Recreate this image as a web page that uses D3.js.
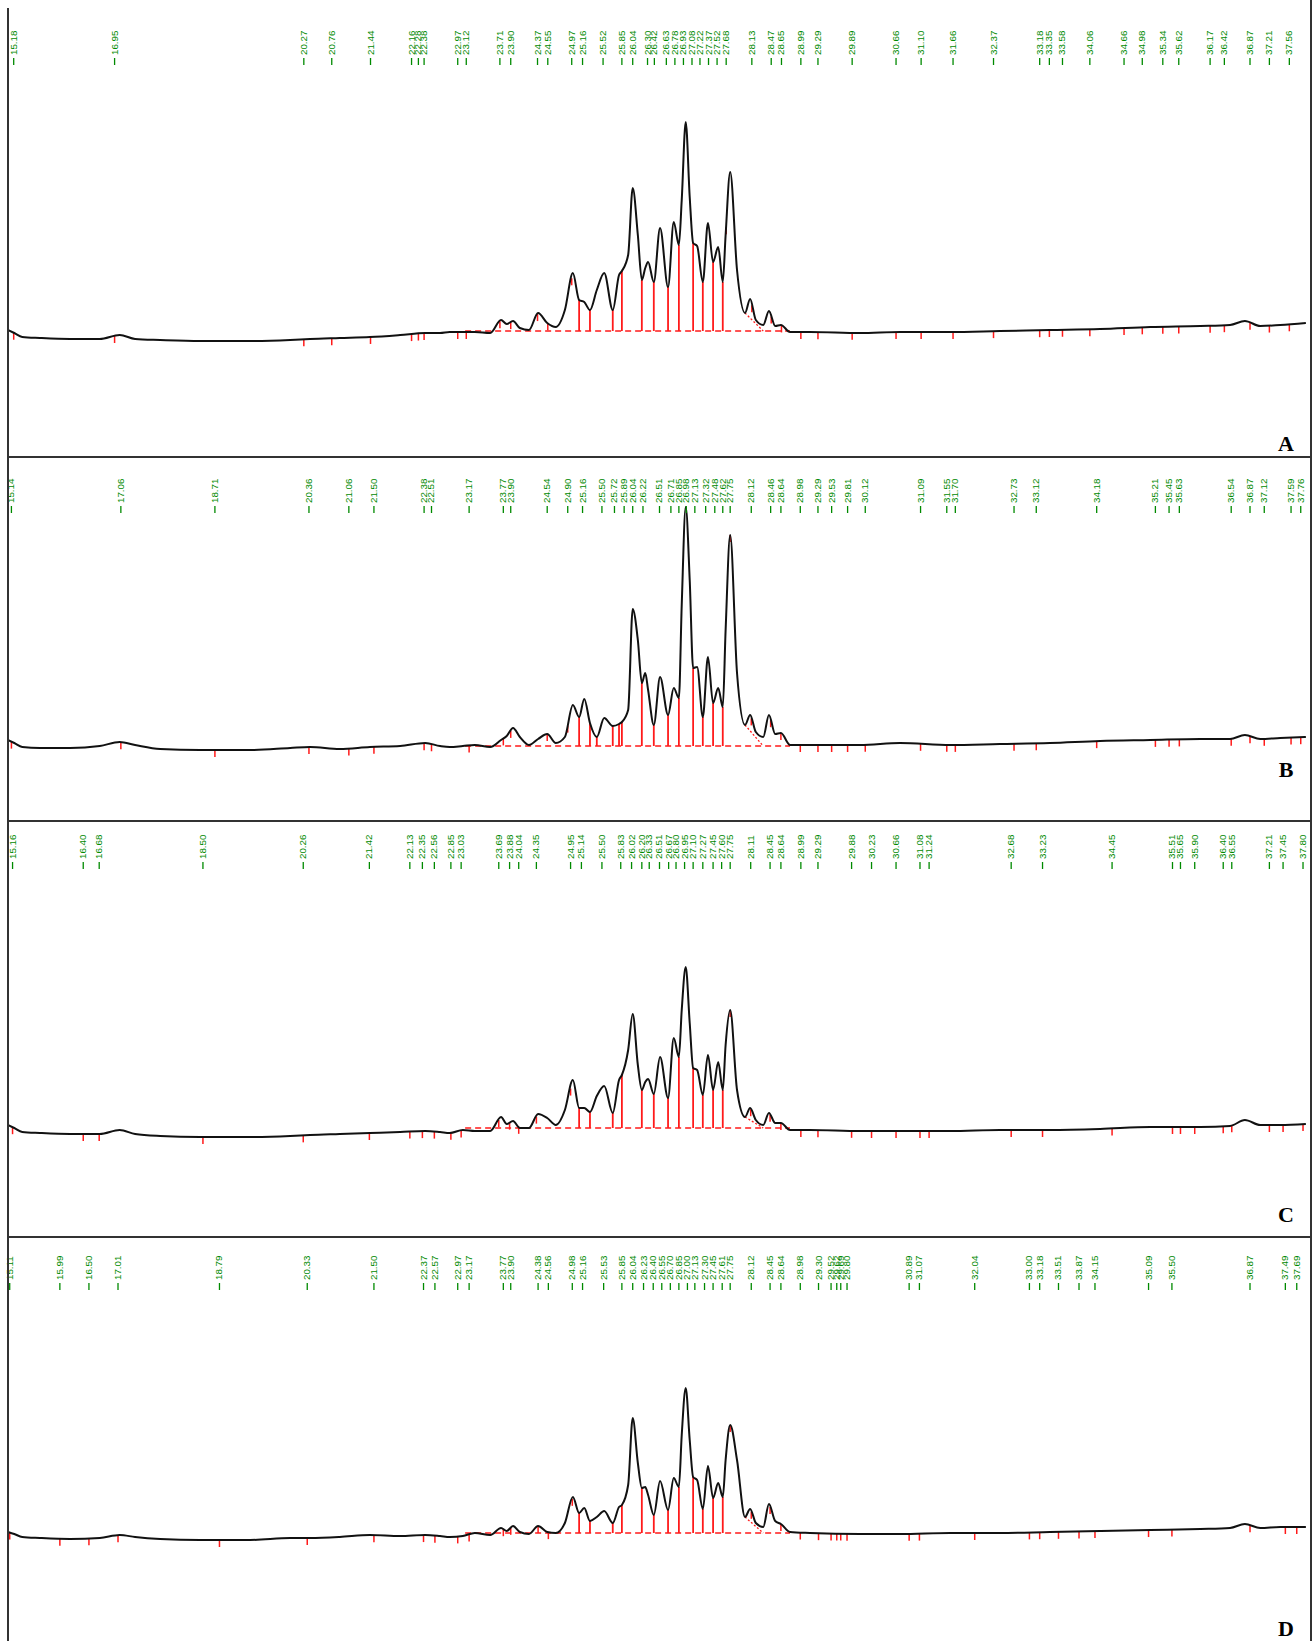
<!DOCTYPE html>
<html>
<head>
<meta charset="utf-8">
<script src="https://cdn.jsdelivr.net/npm/d3@7"></script>
<style>
  body { margin: 0; background: #fff; }
  svg { display: block; }
</style>
</head>
<body>
<div id="chart"></div>
<script>
// retention time grid (min), shared by the four traces
const times = [15.08, 15.19, 15.33, 15.64, 16.17, 16.69, 17.04, 17.31, 17.75, 18.45,
  19.33, 20.03, 20.38, 20.90, 21.43, 21.96, 22.40, 22.66, 22.83, 23.06,
  23.27, 23.54, 23.73, 23.83, 23.94, 24.06, 24.22, 24.38, 24.54, 24.69,
  24.85, 24.99, 25.10, 25.19, 25.29, 25.41, 25.54, 25.69, 25.80, 25.85,
  25.96, 26.04, 26.13, 26.20, 26.26, 26.31, 26.41, 26.52, 26.66, 26.76,
  26.85, 26.90, 26.97, 27.04, 27.10, 27.17, 27.27, 27.36, 27.45, 27.54,
  27.62, 27.67, 27.75, 27.87, 28.01, 28.10, 28.20, 28.33, 28.43, 28.54,
  28.64, 28.80, 29.15, 30.03, 30.73, 31.61, 32.48, 33.36, 34.24, 35.12,
  36.00, 36.52, 36.78, 37.05, 37.40, 37.85]

// detector signal (mV) for each sample
const signalA = [15, 12, 8, 7, 6, 6, 10, 6, 5, 4,
  4, 5, 6, 7, 8, 10, 12, 12, 13, 13,
  13, 12, 25, 21, 24, 17, 15, 32, 22, 18,
  35, 72, 45, 43, 35, 55, 72, 35, 70, 74,
  90, 157, 110, 65, 77, 83, 63, 117, 58, 123,
  100, 145, 223, 148, 102, 99, 63, 122, 83, 98,
  63, 110, 173, 75, 32, 46, 25, 20, 34, 19,
  20, 13, 13, 12, 13, 13, 14, 15, 16, 18,
  19, 20, 24, 19, 20, 22]
const signalB = [15, 12, 8, 7, 7, 9, 13, 10, 6, 5,
  5, 7, 8, 6, 8, 9, 12, 9, 8, 9,
  10, 8, 15, 19, 27, 18, 10, 16, 21, 12,
  18, 50, 38, 56, 32, 18, 37, 29, 31, 33,
  45, 146, 115, 72, 82, 65, 30, 78, 40, 67,
  57, 150, 248, 175, 87, 88, 38, 98, 52, 67,
  48, 125, 220, 82, 30, 40, 23, 18, 40, 21,
  22, 10, 10, 10, 12, 10, 11, 12, 14, 15,
  16, 16, 20, 16, 17, 18]
const signalC = [15, 12, 8, 7, 6, 6, 10, 6, 4, 3,
  3, 4, 5, 6, 7, 8, 9, 8, 7, 10,
  9, 9, 23, 16, 19, 12, 12, 26, 22, 15,
  30, 60, 32, 32, 28, 44, 54, 27, 60, 65,
  90, 126, 75, 50, 58, 61, 46, 83, 42, 102,
  83, 130, 173, 117, 72, 70, 45, 85, 50, 78,
  50, 95, 130, 50, 23, 32, 20, 15, 27, 17,
  17, 10, 10, 9, 9, 9, 10, 10, 11, 13,
  13, 14, 20, 15, 15, 16]
const signalD = [13, 11, 8, 7, 6, 7, 10, 8, 6, 5,
  5, 7, 7, 8, 10, 9, 10, 9, 8, 9,
  12, 10, 17, 14, 19, 13, 11, 19, 13, 12,
  22, 48, 32, 37, 24, 28, 34, 22, 38, 40,
  60, 127, 82, 57, 58, 50, 30, 64, 35, 67,
  58, 110, 157, 105, 68, 65, 36, 79, 47, 62,
  48, 85, 120, 85, 28, 36, 22, 18, 41, 24,
  21, 13, 12, 11, 11, 12, 12, 13, 14, 15,
  16, 17, 21, 17, 18, 18]

// integrated peak retention times printed above each trace
const labelsA = ["15.18", "16.95", "20.27", "20.76", "21.44", "22.16", "22.28", "22.38", "22.97", "23.12",
  "23.71", "23.90", "24.37", "24.55", "24.97", "25.16", "25.52", "25.85", "26.04", "26.30",
  "26.42", "26.63", "26.78", "26.93", "27.08", "27.22", "27.37", "27.52", "27.68", "28.13",
  "28.47", "28.65", "28.99", "29.29", "29.89", "30.66", "31.10", "31.66", "32.37", "33.18",
  "33.35", "33.58", "34.06", "34.66", "34.98", "35.34", "35.62", "36.17", "36.42", "36.87",
  "37.21", "37.56"]
const labelsB = ["15.14", "17.06", "18.71", "20.36", "21.06", "21.50", "22.38", "22.51", "23.17", "23.77",
  "23.90", "24.54", "24.90", "25.16", "25.50", "25.72", "25.89", "26.04", "26.22", "26.51",
  "26.71", "26.85", "26.98", "27.13", "27.32", "27.48", "27.62", "27.75", "28.12", "28.46",
  "28.64", "28.98", "29.29", "29.53", "29.81", "30.12", "31.09", "31.55", "31.70", "32.73",
  "33.12", "34.18", "35.21", "35.45", "35.63", "36.54", "36.87", "37.12", "37.59", "37.76"]
const labelsC = ["15.16", "16.40", "16.68", "18.50", "20.26", "21.42", "22.13", "22.35", "22.56", "22.85",
  "23.03", "23.69", "23.88", "24.04", "24.35", "24.95", "25.14", "25.50", "25.83", "26.02",
  "26.20", "26.33", "26.51", "26.67", "26.80", "26.95", "27.10", "27.27", "27.45", "27.60",
  "27.75", "28.11", "28.45", "28.64", "28.99", "29.29", "29.88", "30.23", "30.66", "31.08",
  "31.24", "32.68", "33.23", "34.45", "35.51", "35.65", "35.90", "36.40", "36.55", "37.21",
  "37.45", "37.80"]
const labelsD = ["15.11", "15.99", "16.50", "17.01", "18.79", "20.33", "21.50", "22.37", "22.57", "22.97",
  "23.17", "23.77", "23.90", "24.38", "24.56", "24.98", "25.16", "25.53", "25.85", "26.04",
  "26.23", "26.40", "26.55", "26.70", "26.85", "27.00", "27.13", "27.30", "27.45", "27.61",
  "27.75", "28.12", "28.45", "28.64", "28.98", "29.30", "29.52", "29.62", "29.69", "29.80",
  "30.89", "31.07", "32.04", "33.00", "33.18", "33.51", "33.87", "34.15", "35.09", "35.50",
  "36.87", "37.49", "37.69"]

// peak split (drop line) times and integration baseline
const dropsA = [25.10, 25.29, 25.69, 25.85, 26.20, 26.41, 26.66, 26.85, 27.10, 27.27, 27.45, 27.62]
const dropsB = [25.10, 25.29, 25.41, 25.69, 25.80, 25.85, 26.20, 26.41, 26.66, 26.85, 27.10, 27.27, 27.45, 27.62]
const dropsC = [25.10, 25.29, 25.69, 25.85, 26.20, 26.41, 26.66, 26.85, 27.10, 27.27, 27.45, 27.62]
const dropsD = [25.10, 25.29, 25.69, 25.85, 26.20, 26.41, 26.66, 26.85, 27.10, 27.27, 27.45, 27.62]
const baseLevels = [14, 9, 12, 12]
const baseSpan = [23.10, 28.80]
const tailSpan = [28.01, 28.33]
const panelNames = ["A", "B", "C", "D"]

const dimensions = {
  width: 1314,
  height: 1641,
  left: 8,
  right: 1311
}

// vertical layout of the four stacked panels
const layout = [
  { top: 0, bottom: 457, zero: 345, labelBase: 65, letterY: 451 },
  { top: 457, bottom: 821, zero: 755, labelBase: 513, letterY: 777 },
  { top: 821, bottom: 1237, zero: 1140, labelBase: 869, letterY: 1222 },
  { top: 1237, bottom: 1641, zero: 1545, labelBase: 1290, letterY: 1636 }
]

const signals = [signalA, signalB, signalC, signalD]
const labelSets = [labelsA, labelsB, labelsC, labelsD]
const dropSets = [dropsA, dropsB, dropsC, dropsD]

const svg = d3.select('#chart')
  .append('svg')
  .attr('width', dimensions.width)
  .attr('height', dimensions.height)

const xScale = d3.scaleLinear()
  .domain([15.08, 37.94])
  .range([dimensions.left, dimensions.right])

// linear read of a trace at time t
const valueAt = (signal, t) => {
  const i = d3.bisectLeft(times, t)
  if (i <= 0) return signal[0]
  if (i >= times.length) return signal[signal.length - 1]
  if (times[i] === t) return signal[i]
  const f = (t - times[i - 1]) / (times[i] - times[i - 1])
  return signal[i - 1] + f * (signal[i] - signal[i - 1])
}

panelNames.forEach((name, k) => {
  const box = layout[k]
  const signal = signals[k]
  const drops = dropSets[k]
  const base = baseLevels[k]

  const yScale = d3.scaleLinear()
    .domain([0, 300])
    .range([box.zero, box.zero - 300])

  const ctr = svg.append('g').attr('class', 'panel-' + name)

  // red integration marks
  ctr.append('line')
    .attr('x1', xScale(baseSpan[0]))
    .attr('x2', xScale(baseSpan[1]))
    .attr('y1', yScale(base))
    .attr('y2', yScale(base))
    .attr('stroke', '#ff1a1a')
    .attr('stroke-width', 1.3)
    .attr('stroke-dasharray', '6,4')

  ctr.append('line')
    .attr('x1', xScale(tailSpan[0]))
    .attr('y1', yScale(valueAt(signal, tailSpan[0])))
    .attr('x2', xScale(tailSpan[1]))
    .attr('y2', yScale(base))
    .attr('stroke', '#ff1a1a')
    .attr('stroke-width', 1.3)
    .attr('stroke-dasharray', '2,2')

  ctr.selectAll('line.drop')
    .data(drops)
    .join('line')
    .attr('class', 'drop')
    .attr('x1', d => xScale(d))
    .attr('x2', d => xScale(d))
    .attr('y1', yScale(base))
    .attr('y2', d => yScale(valueAt(signal, d)))
    .attr('stroke', '#ff1a1a')
    .attr('stroke-width', 1.8)

  const tickTimes = labelSets[k].map(Number)
    .filter(t => t < drops[0] - 0.05 || t > drops[drops.length - 1] + 0.05)

  ctr.selectAll('line.mark')
    .data(tickTimes)
    .join('line')
    .attr('class', 'mark')
    .attr('x1', d => xScale(d))
    .attr('x2', d => xScale(d))
    .attr('y1', d => yScale(valueAt(signal, d)))
    .attr('y2', d => yScale(valueAt(signal, d)) + 7)
    .attr('stroke', '#ff1a1a')
    .attr('stroke-width', 1.5)

  // chromatogram trace
  const line = d3.line()
    .x((d, i) => xScale(times[i]))
    .y(d => yScale(d))
    .curve(d3.curveMonotoneX)

  ctr.append('path')
    .datum(signal)
    .attr('d', line)
    .attr('fill', 'none')
    .attr('stroke', '#111')
    .attr('stroke-width', 2)
    .attr('stroke-linejoin', 'round')

  // green retention-time labels, rotated, with their little tick
  const lab = ctr.selectAll('g.rt')
    .data(labelSets[k])
    .join('g')
    .attr('class', 'rt')
    .attr('transform', d => `translate(${xScale(+d)}, ${box.labelBase})`)

  lab.append('line')
    .attr('y1', 0)
    .attr('y2', -7)
    .attr('stroke', '#008a00')
    .attr('stroke-width', 1.3)

  lab.append('text')
    .attr('transform', 'rotate(-90) scale(1.15,1)')
    .attr('x', 10 / 1.15)
    .attr('dy', '0.35em')
    .attr('fill', '#008a00')
    .style('font-family', "'Liberation Sans', Arial, sans-serif")
    .style('font-size', '8.5px')
    .text(d => d)

  svg.append('text')
    .attr('x', 1286)
    .attr('y', box.letterY)
    .attr('text-anchor', 'middle')
    .style('font-family', "'Liberation Serif', 'Times New Roman', serif")
    .style('font-weight', 'bold')
    .style('font-size', '22px')
    .text(name)
})

// frame: left and right rules plus the panel separators
const frame = svg.append('g').attr('stroke', '#333').attr('stroke-width', 2)

frame.append('line')
  .attr('x1', dimensions.left).attr('x2', dimensions.left)
  .attr('y1', 8).attr('y2', dimensions.height)

frame.append('line')
  .attr('x1', dimensions.right).attr('x2', dimensions.right)
  .attr('y1', 0).attr('y2', dimensions.height)

frame.selectAll('line.sep')
  .data(layout.slice(1))
  .join('line')
  .attr('class', 'sep')
  .attr('x1', dimensions.left)
  .attr('x2', dimensions.right)
  .attr('y1', d => d.top)
  .attr('y2', d => d.top)
</script>
</body>
</html>
